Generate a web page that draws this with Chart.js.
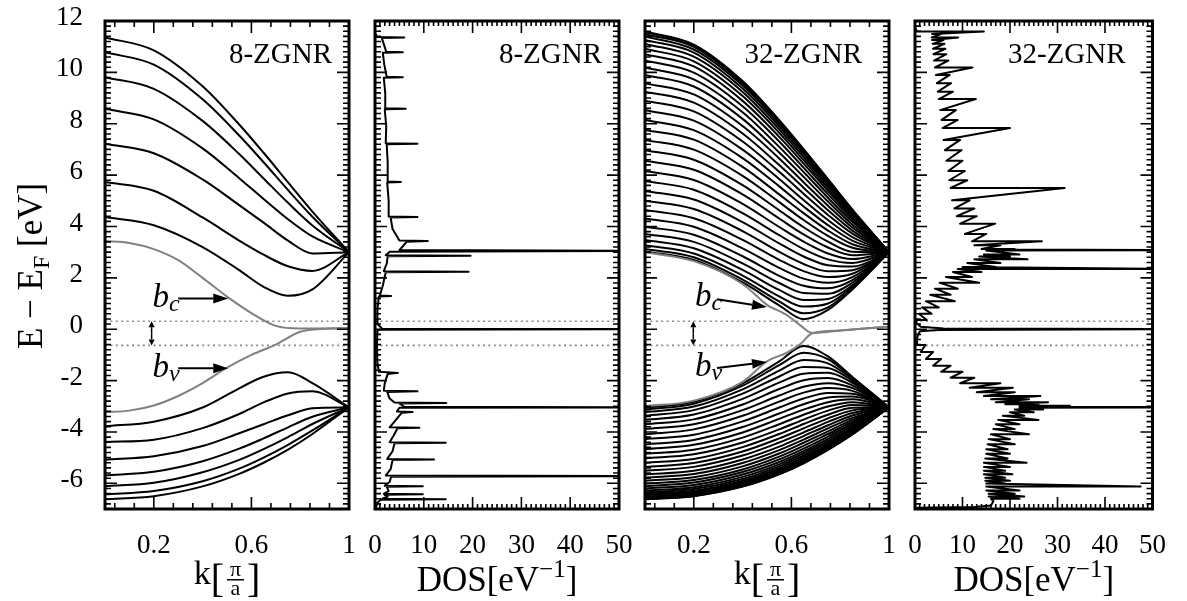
<!DOCTYPE html>
<html>
<head>
<meta charset="utf-8">
<script src="https://cdn.jsdelivr.net/npm/chart.js@4.4.1/dist/chart.umd.min.js"></script>
<style>
  html, body { margin: 0; padding: 0; background: #fff; }
  #wrap { position: relative; width: 1187px; height: 601px; }
  #wrap canvas { position: absolute; left: 0; top: 0; }
</style>
</head>
<body>
<div id="wrap">
  <canvas id="bands8" width="1187" height="601"></canvas>
  <canvas id="dos8" width="1187" height="601"></canvas>
  <canvas id="bands32" width="1187" height="601"></canvas>
  <canvas id="dos32" width="1187" height="601"></canvas>
</div>
<script>
// ---- band structure, k in units of pi/a ----
const kGrid = [0, 0.2, 0.4, 0.55, 0.65, 0.75, 0.85, 1];

// 8-ZGNR bulk bands (eV), lowest conduction / highest valence first
const cond8 = [
  [4.37, 4.05, 3.20, 2.30, 1.65, 1.30, 1.55, 3.0],
  [5.73, 5.39, 4.35, 3.45, 2.90, 2.45, 2.27, 3.0],
  [7.22, 6.85, 5.83, 4.83, 4.15, 3.45, 2.95, 3.0],
  [8.58, 8.17, 7.04, 5.88, 5.07, 4.28, 3.61, 3.0],
  [9.81, 9.36, 8.11, 6.82, 5.87, 4.92, 4.04, 3.0],
  [10.78, 10.30, 8.95, 7.54, 6.50, 5.42, 4.38, 3.0],
  [11.36, 10.86, 9.46, 7.97, 6.87, 5.72, 4.58, 3.0]
];
const val8 = [
  [-3.78, -3.60, -3.05, -2.30, -1.85, -1.68, -2.10, -3.04],
  [-4.39, -4.30, -3.85, -3.30, -2.85, -2.50, -2.42, -3.04],
  [-5.08, -4.95, -4.55, -4.05, -3.70, -3.35, -3.08, -3.04],
  [-5.69, -5.55, -5.14, -4.65, -4.25, -3.82, -3.41, -3.04],
  [-6.11, -5.98, -5.57, -5.09, -4.67, -4.20, -3.69, -3.04],
  [-6.43, -6.30, -5.92, -5.43, -5.00, -4.50, -3.94, -3.04],
  [-6.62, -6.50, -6.12, -5.63, -5.20, -4.69, -4.08, -3.04]
];
// 8-ZGNR edge bands b_c / b_v
const edgeK8 = [0, 0.1, 0.2, 0.3, 0.4, 0.5, 0.6, 0.7, 0.8, 0.9, 1];
const edgeC8 = [3.43, 3.36, 3.12, 2.69, 2.00, 1.27, 0.63, 0.13, 0.03, 0.03, 0.04];
const edgeV8 = [-3.23, -3.17, -2.97, -2.60, -2.10, -1.50, -1.00, -0.60, -0.10, 0.02, 0.04];

// 32-ZGNR bulk bands (eV)
const cond32 = [
  [3.03, 2.70, 1.82, 0.93, 0.39, 0.75, 1.55, 3.0],
  [3.12, 2.80, 1.93, 1.08, 0.62, 0.85, 1.58, 3.0],
  [3.27, 2.95, 2.09, 1.28, 0.88, 1.00, 1.64, 3.0],
  [3.47, 3.15, 2.31, 1.53, 1.14, 1.18, 1.71, 3.0],
  [3.71, 3.40, 2.56, 1.80, 1.41, 1.38, 1.81, 3.0],
  [3.99, 3.68, 2.84, 2.08, 1.69, 1.59, 1.91, 3.0],
  [4.31, 3.99, 3.15, 2.39, 1.97, 1.81, 2.03, 3.0],
  [4.64, 4.32, 3.48, 2.70, 2.26, 2.03, 2.16, 3.0],
  [5.00, 4.68, 3.82, 3.01, 2.54, 2.26, 2.30, 3.0],
  [5.38, 5.05, 4.17, 3.34, 2.83, 2.49, 2.44, 3.0],
  [5.77, 5.43, 4.52, 3.66, 3.12, 2.72, 2.58, 3.0],
  [6.16, 5.81, 4.88, 3.98, 3.41, 2.95, 2.73, 3.0],
  [6.56, 6.21, 5.25, 4.31, 3.69, 3.18, 2.88, 3.0],
  [6.97, 6.60, 5.61, 4.63, 3.97, 3.41, 3.02, 3.0],
  [7.37, 6.99, 5.97, 4.95, 4.25, 3.63, 3.17, 3.0],
  [7.76, 7.38, 6.32, 5.25, 4.52, 3.84, 3.31, 3.0],
  [8.15, 7.75, 6.66, 5.56, 4.78, 4.05, 3.45, 3.0],
  [8.53, 8.12, 6.99, 5.85, 5.03, 4.25, 3.59, 3.0],
  [8.90, 8.48, 7.31, 6.13, 5.27, 4.45, 3.72, 3.0],
  [9.25, 8.82, 7.62, 6.39, 5.51, 4.63, 3.84, 3.0],
  [9.58, 9.14, 7.91, 6.65, 5.72, 4.81, 3.96, 3.0],
  [9.90, 9.45, 8.19, 6.88, 5.93, 4.97, 4.07, 3.0],
  [10.19, 9.73, 8.45, 7.10, 6.12, 5.12, 4.18, 3.0],
  [10.46, 9.99, 8.68, 7.31, 6.29, 5.26, 4.27, 3.0],
  [10.71, 10.23, 8.89, 7.49, 6.45, 5.39, 4.35, 3.0],
  [10.92, 10.43, 9.08, 7.65, 6.58, 5.49, 4.43, 3.0],
  [11.11, 10.61, 9.24, 7.78, 6.70, 5.59, 4.49, 3.0],
  [11.26, 10.77, 9.37, 7.90, 6.80, 5.67, 4.55, 3.0],
  [11.40, 10.89, 9.49, 8.00, 6.89, 5.74, 4.59, 3.0],
  [11.49, 10.99, 9.57, 8.07, 6.95, 5.79, 4.63, 3.0],
  [11.56, 11.05, 9.63, 8.12, 6.99, 5.82, 4.65, 3.0],
  [11.59, 11.08, 9.66, 8.14, 7.01, 5.84, 4.66, 3.0]
];
const val32 = [
  [-3.06, -2.83, -2.11, -1.25, -0.65, -1.06, -1.86, -3.04],
  [-3.13, -2.90, -2.20, -1.40, -0.92, -1.17, -1.89, -3.04],
  [-3.23, -3.01, -2.34, -1.61, -1.20, -1.33, -1.94, -3.04],
  [-3.37, -3.15, -2.51, -1.84, -1.47, -1.51, -2.01, -3.04],
  [-3.53, -3.32, -2.71, -2.08, -1.73, -1.70, -2.09, -3.04],
  [-3.70, -3.51, -2.93, -2.33, -1.99, -1.90, -2.19, -3.04],
  [-3.89, -3.70, -3.15, -2.58, -2.24, -2.10, -2.29, -3.04],
  [-4.09, -3.90, -3.37, -2.82, -2.47, -2.29, -2.40, -3.04],
  [-4.28, -4.11, -3.59, -3.05, -2.70, -2.48, -2.51, -3.04],
  [-4.48, -4.31, -3.81, -3.28, -2.92, -2.66, -2.62, -3.04],
  [-4.67, -4.50, -4.02, -3.49, -3.13, -2.84, -2.73, -3.04],
  [-4.85, -4.69, -4.22, -3.70, -3.33, -3.01, -2.84, -3.04],
  [-5.03, -4.87, -4.41, -3.90, -3.52, -3.17, -2.95, -3.04],
  [-5.20, -5.05, -4.59, -4.08, -3.69, -3.33, -3.06, -3.04],
  [-5.36, -5.21, -4.76, -4.25, -3.86, -3.47, -3.16, -3.04],
  [-5.51, -5.36, -4.92, -4.41, -4.02, -3.61, -3.26, -3.04],
  [-5.65, -5.51, -5.07, -4.57, -4.16, -3.74, -3.36, -3.04],
  [-5.78, -5.64, -5.21, -4.71, -4.30, -3.86, -3.45, -3.04],
  [-5.90, -5.76, -5.34, -4.84, -4.42, -3.98, -3.53, -3.04],
  [-6.01, -5.87, -5.46, -4.96, -4.54, -4.08, -3.61, -3.04],
  [-6.11, -5.97, -5.56, -5.07, -4.65, -4.18, -3.68, -3.04],
  [-6.20, -6.07, -5.66, -5.17, -4.75, -4.27, -3.75, -3.04],
  [-6.28, -6.15, -5.75, -5.26, -4.83, -4.35, -3.82, -3.04],
  [-6.35, -6.22, -5.83, -5.34, -4.91, -4.42, -3.87, -3.04],
  [-6.41, -6.29, -5.90, -5.41, -4.98, -4.48, -3.92, -3.04],
  [-6.46, -6.34, -5.95, -5.47, -5.04, -4.54, -3.96, -3.04],
  [-6.51, -6.39, -6.00, -5.52, -5.09, -4.58, -4.00, -3.04],
  [-6.54, -6.42, -6.04, -5.56, -5.13, -4.62, -4.03, -3.04],
  [-6.58, -6.46, -6.08, -5.59, -5.17, -4.65, -4.06, -3.04],
  [-6.60, -6.48, -6.10, -5.62, -5.19, -4.68, -4.08, -3.04],
  [-6.61, -6.49, -6.12, -5.64, -5.21, -4.69, -4.09, -3.04],
  [-6.62, -6.50, -6.13, -5.65, -5.22, -4.70, -4.10, -3.04]
];
const edgeK32 = [0, 0.2, 0.4, 0.5, 0.58, 0.634, 0.687, 0.8, 0.9, 1];
const edgeC32 = [3.0, 2.65, 1.76, 0.95, 0.56, 0.17, -0.15, -0.05, 0.03, 0.10];
const edgeV32 = [-3.0, -2.78, -2.05, -1.25, -0.92, -0.60, -0.15, -0.05, 0.03, 0.10];

// ---- density of states, [E (eV), DOS (1/eV)] ----
const dos8 = [
  [-6.95, 0.2], [-6.75, 0.5], [-6.64, 1.2], [-6.62, 14.5], [-6.60, 1.5], [-6.52, 2.6],
  [-6.45, 2.0], [-6.43, 9.8], [-6.41, 1.8], [-6.30, 2.8], [-6.13, 2.4], [-6.11, 9.8],
  [-6.09, 2.0], [-5.95, 3.0], [-5.74, 3.3], [-5.72, 60], [-5.70, 2.2], [-5.45, 3.2],
  [-5.09, 3.6], [-5.07, 12.1], [-5.05, 2.5], [-4.75, 3.6], [-4.44, 4.0], [-4.42, 14.5],
  [-4.40, 3.0], [-4.15, 3.8], [-3.86, 4.6], [-3.84, 9.1], [-3.82, 3.0], [-3.55, 4.2],
  [-3.25, 5.5], [-3.22, 7.7], [-3.20, 4.5], [-3.06, 5.0], [-3.04, 60], [-3.02, 6.0],
  [-2.89, 5.0], [-2.87, 14.6], [-2.85, 4.0], [-2.70, 3.0], [-2.44, 2.5], [-2.42, 8.7],
  [-2.40, 1.8], [-2.10, 2.0], [-1.74, 2.6], [-1.70, 4.7], [-1.66, 0.8], [-1.30, 0.5],
  [-0.60, 0.4], [-0.05, 0.5], [-0.02, 1.0], [0.0, 60], [0.02, 1.5], [0.20, 0.5],
  [0.80, 0.5], [1.27, 0.8], [1.29, 3.3], [1.31, 1.0], [1.70, 1.6], [2.22, 2.2],
  [2.24, 19.2], [2.26, 1.8], [2.55, 2.4], [2.84, 2.6], [2.86, 19.6], [2.88, 2.2],
  [3.02, 3.0], [3.05, 60], [3.08, 5.0], [3.25, 5.8], [3.41, 6.5], [3.43, 10.8],
  [3.45, 5.0], [3.90, 3.6], [4.35, 3.2], [4.37, 8.7], [4.39, 2.8], [5.00, 2.8],
  [5.71, 2.5], [5.73, 5.3], [5.75, 2.6], [6.50, 2.6], [7.20, 2.4], [7.22, 8.7],
  [7.24, 2.2], [7.90, 2.3], [8.56, 2.0], [8.58, 6.3], [8.60, 2.2], [9.20, 2.1],
  [9.79, 1.8], [9.81, 5.7], [9.83, 2.4], [10.30, 1.9], [10.76, 1.6], [10.78, 5.7],
  [10.80, 2.3], [11.10, 1.8], [11.34, 1.4], [11.36, 6.0], [11.38, 0.3], [11.50, 0.2]
];
const dos32 = [
  [-6.95, 0.3], [-6.92, 12.5], [-6.86, 16], [-6.70, 16.5],
  [-6.60, 16], [-6.60, 22], [-6.51, 15.5], [-6.51, 23], [-6.41, 15.5], [-6.41, 21],
  [-6.28, 15], [-6.28, 22], [-6.12, 15], [-6.12, 47.5], [-6.01, 15], [-6.01, 19],
  [-5.90, 14.8], [-5.90, 20], [-5.78, 14.8], [-5.78, 19], [-5.65, 14.5], [-5.65, 20.5],
  [-5.51, 14.5], [-5.51, 19], [-5.36, 14.5], [-5.36, 20], [-5.20, 14.5], [-5.20, 23.5],
  [-5.03, 14.8], [-5.03, 19.5], [-4.85, 15], [-4.85, 20], [-4.67, 15], [-4.67, 19.5],
  [-4.48, 15.3], [-4.48, 21], [-4.28, 15.5], [-4.28, 20], [-4.09, 16], [-4.09, 24],
  [-3.89, 16.5], [-3.89, 21], [-3.70, 17], [-3.70, 22], [-3.53, 17.5], [-3.53, 26],
  [-3.37, 18.5], [-3.37, 23], [-3.23, 20], [-3.23, 25], [-3.13, 21], [-3.13, 27],
  [-3.06, 22], [-3.04, 60], [-3.02, 30],
  [-2.98, 32.6], [-2.98, 22], [-2.92, 26], [-2.92, 19], [-2.84, 28], [-2.84, 17],
  [-2.73, 24], [-2.73, 16], [-2.60, 26.4], [-2.60, 14.5], [-2.45, 21], [-2.45, 13],
  [-2.28, 20.6], [-2.28, 11.5], [-2.10, 18], [-2.10, 9.5], [-1.89, 12.5], [-1.89, 7.5],
  [-1.66, 10], [-1.66, 5.5], [-1.42, 7.5], [-1.42, 3.8], [-1.16, 5.5], [-1.16, 2.3],
  [-0.89, 3.8], [-0.89, 1.2], [-0.61, 2.2], [-0.61, 0.4],
  [-0.30, 0.5], [-0.08, 1.0], [-0.03, 5], [0.0, 60], [0.03, 6], [0.10, 1.2], [0.25, 0.3],
  [0.36, 0.3], [0.36, 2.5], [0.60, 0.8], [0.60, 3.5], [0.85, 1.5], [0.85, 5],
  [1.09, 2.3], [1.09, 8.4], [1.34, 3.2], [1.34, 7.5], [1.58, 4.2], [1.58, 9],
  [1.81, 5.2], [1.81, 13.5], [2.03, 6.5], [2.03, 12], [2.23, 8], [2.23, 14],
  [2.34, 9], [2.34, 60], [2.42, 10], [2.42, 17], [2.58, 11], [2.58, 18],
  [2.72, 12.5], [2.72, 23.7], [2.83, 13.5], [2.83, 20], [2.91, 14.5], [2.91, 22],
  [3.06, 15], [3.08, 60], [3.10, 18],
  [3.12, 21], [3.12, 14], [3.27, 18], [3.27, 12.5], [3.42, 26.7], [3.42, 12],
  [3.71, 15], [3.71, 10.5], [4.11, 16.9], [4.11, 9.5], [4.40, 13], [4.40, 8.8],
  [4.70, 12.5], [4.70, 8.3], [5.02, 11.5], [5.02, 7.8], [5.50, 31.5], [5.50, 7.5],
  [5.80, 11], [5.80, 7.2], [6.16, 10.5], [6.16, 7.0], [6.56, 10], [6.56, 6.6],
  [6.97, 9.8], [6.97, 6.3], [7.37, 9.5], [7.37, 6.0], [7.83, 20], [7.83, 5.8],
  [8.15, 9], [8.15, 5.6], [8.53, 8.6], [8.53, 5.3], [8.96, 12.8], [8.96, 5.0],
  [9.25, 8], [9.25, 4.8], [9.58, 7.6], [9.58, 4.6], [9.90, 7.3], [9.90, 4.4],
  [10.19, 12.1], [10.19, 4.2], [10.46, 7], [10.46, 4.0], [10.71, 6.6], [10.71, 3.9],
  [10.92, 6.4], [10.92, 3.8], [11.11, 6.2], [11.11, 3.7], [11.26, 6.0], [11.26, 3.6],
  [11.36, 9.1], [11.36, 3.5], [11.49, 5.5], [11.49, 3.6], [11.59, 14.5], [11.59, 0.3],
  [11.70, 0.2]
];

// gap markers and tick labels
const gapLines = [0.31, -0.63];
const yLabels = [-6, -4, -2, 0, 2, 4, 6, 8, 10, 12];
const kLabels = [0.2, 0.6, 1];
const dosLabels = [0, 10, 20, 30, 40, 50];

// ---- layout ----
const W = 1187, H = 601, TOP = 21, BOTTOM = 509, XAXIS_H = 60;
const serif = "'Liberation Serif', 'Times New Roman', serif";
const GRAY = '#808080';
Chart.defaults.font.family = serif;
Chart.defaults.color = '#000';

function range(a, b, step) {
  const out = [];
  for (let v = a; v <= b + 1e-9; v += step) out.push(+v.toFixed(4));
  return out;
}

function bandSet(ks, es, color) {
  return {
    data: ks.map((k, j) => ({ x: k, y: es[j] })),
    borderColor: color, borderWidth: 2, pointRadius: 0,
    cubicInterpolationMode: 'monotone'
  };
}
function dosSet(pairs) {
  return {
    data: pairs.map(p => ({ x: p[1], y: p[0] })),
    borderColor: '#000', borderWidth: 2, pointRadius: 0, tension: 0,
    borderJoinStyle: 'round'
  };
}
function gapSets(xmax) {
  return gapLines.map(e => ({
    data: [{ x: 0, y: e }, { x: xmax, y: e }],
    borderColor: '#8a8a8a', borderWidth: 1.6, borderDash: [2, 3.4], pointRadius: 0
  }));
}

// frame with inward ticks on all four sides
function frame(p) {
  return {
    id: 'frame',
    afterDatasetsDraw(chart) {
      const { ctx, chartArea: a, scales: { x, y } } = chart;
      ctx.save();
      ctx.strokeStyle = '#000';
      ctx.lineWidth = 1.6;
      ctx.beginPath();
      const xt = (vals, len) => vals.forEach(v => {
        const px = x.getPixelForValue(v);
        ctx.moveTo(px, a.bottom); ctx.lineTo(px, a.bottom - len);
        ctx.moveTo(px, a.top); ctx.lineTo(px, a.top + len);
      });
      const yt = (vals, len) => vals.forEach(v => {
        const py = y.getPixelForValue(v);
        ctx.moveTo(a.left, py); ctx.lineTo(a.left + len, py);
        ctx.moveTo(a.right, py); ctx.lineTo(a.right - len, py);
      });
      xt(p.xMinor, p.xMinorLen);
      xt(p.xMajor, 12);
      yt(range(-7, 12, 0.2), 6);
      yt(range(-6, 12, 2), 12);
      ctx.stroke();
      ctx.lineWidth = 3;
      ctx.strokeRect(a.left, a.top, a.width, a.height);
      ctx.restore();
    }
  };
}

// text pieces drawn one after another: [text, font, dy]
function runText(ctx, pieces, x, y, align) {
  const widths = pieces.map(([t, f]) => { ctx.font = f; return ctx.measureText(t).width; });
  const total = widths.reduce((s, w) => s + w, 0);
  let cx = align === 'center' ? x - total / 2 : align === 'right' ? x - total : x;
  ctx.textAlign = 'left';
  ctx.textBaseline = 'alphabetic';
  pieces.forEach(([t, f, dy], i) => { ctx.font = f; ctx.fillText(t, cx, y + (dy || 0)); cx += widths[i]; });
}

function arrow(ctx, x0, y0, x1, y1, head, half) {
  const ang = Math.atan2(y1 - y0, x1 - x0);
  const bx = x1 - head * Math.cos(ang), by = y1 - head * Math.sin(ang);
  ctx.beginPath(); ctx.moveTo(x0, y0); ctx.lineTo(bx, by); ctx.stroke();
  ctx.beginPath();
  ctx.moveTo(x1, y1);
  ctx.lineTo(bx + half * Math.sin(ang), by - half * Math.cos(ang));
  ctx.lineTo(bx - half * Math.sin(ang), by + half * Math.cos(ang));
  ctx.closePath(); ctx.fill();
}

function kTitle(ctx, cx, base) {
  const big = `34px ${serif}`, br = `40px ${serif}`, sm = `22px ${serif}`;
  ctx.font = big; const wk = ctx.measureText('k').width;
  ctx.font = br; const wb = ctx.measureText('[').width;
  const fw = 17, gap = 3;
  const total = wk + wb + gap + fw + gap + wb;
  let x = cx - total / 2;
  ctx.textBaseline = 'alphabetic'; ctx.textAlign = 'left';
  ctx.font = big; ctx.fillText('k', x, base); x += wk;
  ctx.font = br; ctx.fillText('[', x, base + 8); x += wb + gap;
  const bar = base - 5;
  ctx.fillRect(x, bar, fw, 1.5);
  ctx.font = sm; ctx.textAlign = 'center';
  ctx.fillText('\u03c0', x + fw / 2, bar - 3);
  ctx.fillText('a', x + fw / 2, bar + 16);
  ctx.textAlign = 'left';
  x += fw + gap;
  ctx.font = br; ctx.fillText(']', x, base + 8);
}

function dosTitle(ctx, cx, base) {
  runText(ctx, [
    ['DOS[eV', `35px ${serif}`, 0],
    ['\u22121', `25px ${serif}`, -14],
    [']', `35px ${serif}`, 0]
  ], cx, base, 'center');
}

function bLabel(ctx, x, base, sub) {
  runText(ctx, [['b', `italic 33px ${serif}`, 0], [sub, `italic 24px ${serif}`, 4]], x, base, 'left');
}

// annotations, in axis units
function notes(p) {
  return {
    id: 'notes',
    afterDraw(chart) {
      const { ctx, chartArea: a, scales: { x, y } } = chart;
      ctx.save();
      ctx.fillStyle = '#000'; ctx.strokeStyle = '#000';
      ctx.font = `29px ${serif}`; ctx.textAlign = 'right'; ctx.textBaseline = 'alphabetic';
      ctx.fillText(p.name, a.right - p.nameInset, 63);
      const cx = (a.left + a.right) / 2;
      if (p.kind === 'k') kTitle(ctx, cx, 584); else dosTitle(ctx, cx, 591);
      if (p.marks) {
        const m = p.marks;
        bLabel(ctx, x.getPixelForValue(m.bc[0]), y.getPixelForValue(m.bc[1]), 'c');
        bLabel(ctx, x.getPixelForValue(m.bv[0]), y.getPixelForValue(m.bv[1]), 'v');
        ctx.lineWidth = 2;
        m.arrows.forEach(([k0, e0, k1, e1]) => arrow(ctx, x.getPixelForValue(k0), y.getPixelForValue(e0),
          x.getPixelForValue(k1), y.getPixelForValue(e1), 15, 5));
        const gx = x.getPixelForValue(m.gapK);
        const g0 = y.getPixelForValue(gapLines[0]), g1 = y.getPixelForValue(gapLines[1]);
        ctx.lineWidth = 1.5;
        const mid = (g0 + g1) / 2;
        arrow(ctx, gx, mid, gx, g0, 6, 3);
        arrow(ctx, gx, mid, gx, g1, 6, 3);
      }
      if (p.yTitle) {
        // energy tick labels on the left axis
        ctx.font = `27px ${serif}`; ctx.textAlign = 'right'; ctx.textBaseline = 'middle';
        yLabels.forEach(v => ctx.fillText(String(v), a.left - 22, y.getPixelForValue(v) - 3));
        ctx.translate(30, 266);
        ctx.rotate(-Math.PI / 2);
        runText(ctx, [
          ['E \u2212 E', `35px ${serif}`, 0],
          ['F', `24px ${serif}`, 7],
          [' [eV]', `35px ${serif}`, 0]
        ], 0, 12, 'center');
      }
      ctx.restore();
    }
  };
}

function makePanel(id, p) {
  return new Chart(document.getElementById(id), {
    type: 'line',
    data: { datasets: p.datasets },
    options: {
      responsive: false,
      animation: false,
      events: [],
      layout: {
        autoPadding: false,
        padding: { left: p.left, right: W - p.right, top: TOP, bottom: H - BOTTOM - XAXIS_H }
      },
      plugins: { legend: { display: false }, tooltip: { enabled: false } },
      scales: {
        x: {
          type: 'linear', min: 0, max: p.xMax,
          afterBuildTicks: s => { s.ticks = p.xLabels.map(v => ({ value: v })); },
          afterFit: s => { s.height = XAXIS_H; },
          grid: { display: false, drawTicks: false }, border: { display: false },
          ticks: { padding: 21, font: { size: 27 }, maxRotation: 0, autoSkip: false, callback: v => String(v) }
        },
        y: {
          type: 'linear', min: -7, max: 12,
          afterFit: s => { s.width = 0; },
          grid: { display: false, drawTicks: false }, border: { display: false },
          ticks: { display: false }
        }
      }
    },
    plugins: [frame(p), notes(p)]
  });
}

const kMinor = range(0.04, 1, 0.08);
const dosMinor = range(0, 50, 1);

function bandData(cond, val, eK, eC, eV) {
  return [
    bandSet(eK, eC, GRAY), bandSet(eK, eV, GRAY),
    ...cond.map(b => bandSet(kGrid, b, '#000')),
    ...val.map(b => bandSet(kGrid, b, '#000')),
    ...gapSets(1)
  ];
}

makePanel('bands8', {
  left: 105, right: 349, xMax: 1, xLabels: kLabels, xMajor: [0.2, 0.6], xMinor: kMinor, xMinorLen: 6,
  kind: 'k', name: '8-ZGNR', nameInset: 17, yTitle: true,
  datasets: bandData(cond8, val8, edgeK8, edgeC8, edgeV8),
  marks: {
    bc: [0.195, 0.86], bv: [0.195, -1.86], gapK: 0.191,
    arrows: [[0.30, 1.20, 0.505, 1.20], [0.30, -1.52, 0.505, -1.52]]
  }
});
makePanel('dos8', {
  left: 375, right: 619, xMax: 50, xLabels: dosLabels, xMajor: range(10, 40, 10), xMinor: dosMinor, xMinorLen: 5,
  kind: 'dos', name: '8-ZGNR', nameInset: 17,
  datasets: [dosSet(dos8), ...gapSets(50)]
});
makePanel('bands32', {
  left: 645, right: 889, xMax: 1, xLabels: kLabels, xMajor: [0.2, 0.6], xMinor: kMinor, xMinorLen: 6,
  kind: 'k', name: '32-ZGNR', nameInset: 27,
  datasets: bandData(cond32, val32, edgeK32, edgeC32, edgeV32),
  marks: {
    bc: [0.205, 0.90], bv: [0.205, -1.82], gapK: 0.198,
    arrows: [[0.295, 1.17, 0.50, 0.86], [0.295, -1.51, 0.50, -1.28]]
  }
});
makePanel('dos32', {
  left: 915, right: 1159, xMax: 50, xLabels: dosLabels, xMajor: range(10, 40, 10), xMinor: dosMinor, xMinorLen: 5,
  kind: 'dos', name: '32-ZGNR', nameInset: 27,
  datasets: [dosSet(dos32), ...gapSets(50)]
});
</script>
</body>
</html>
